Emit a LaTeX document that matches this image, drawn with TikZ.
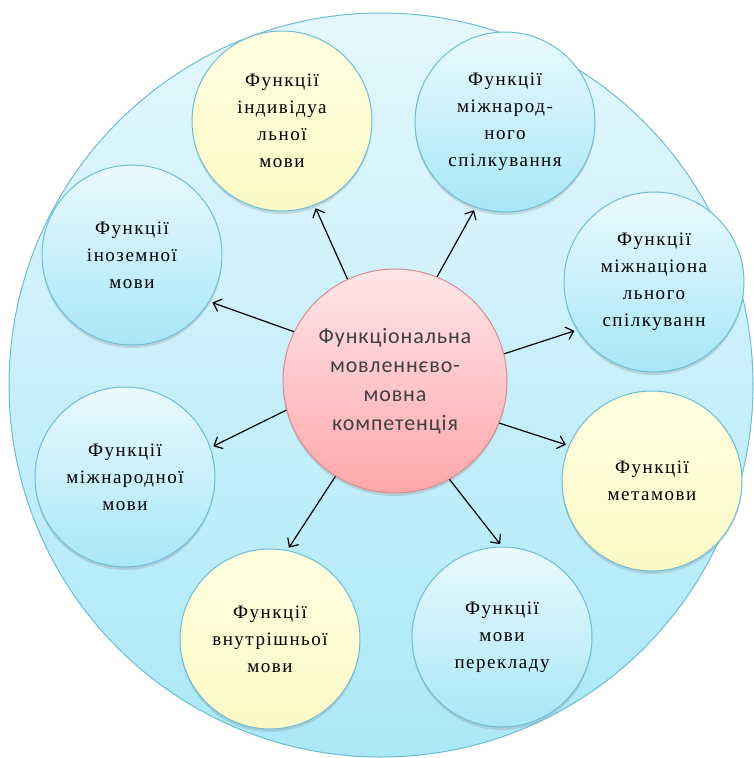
\documentclass[tikz,border=0pt]{standalone}
\usepackage{fontspec}
\setmainfont[LetterSpace=8]{Liberation Serif}
\newfontfamily\ctrfont[LetterSpace=4]{Carlito}
\usetikzlibrary{arrows.meta,shadows}

\definecolor{rimline}{HTML}{6DBCD3}
\definecolor{bigtop}{HTML}{E4F7FD}
\definecolor{bigbot}{HTML}{ABE8F8}
\definecolor{bltop}{HTML}{EAFAFE}
\definecolor{blbot}{HTML}{A8E6F8}
\definecolor{yltop}{HTML}{FFFFE0}
\definecolor{ylbot}{HTML}{FCF9C6}
\definecolor{ctrtop}{HTML}{FFE6E9}
\definecolor{ctrbot}{HTML}{FFA7AB}
\definecolor{ctrline}{HTML}{D88B92}

\begin{document}
\begin{tikzpicture}[x=1pt, y=-1pt,
		every node/.append style={circle, draw, inner sep=0pt, align=center}
		,sat/.style={minimum size=180pt, draw=rimline, line width=1pt,
			font=\fontsize{19}{27}\selectfont,
			drop shadow={shadow xshift=0pt, shadow yshift=-3pt, opacity=.25}}
		,bl/.style={sat, top color=bltop, bottom color=blbot}
		,yl/.style={sat, top color=yltop, bottom color=ylbot}
		,ctr/.style={minimum size=224pt, draw=ctrline, line width=1pt,
			top color=ctrtop, bottom color=ctrbot, text=black!75,
			font=\ctrfont\fontsize{22}{29}\selectfont,
			drop shadow={shadow xshift=0pt, shadow yshift=-3pt, opacity=.25}}
		,arr/.style={-{Straight Barb[length=7pt, width=13pt]}, line width=1.2pt, shorten >=3pt}
	]
	\useasboundingbox (0,0) rectangle (754,758);

	% background disc
	\node [minimum size=744pt, draw=rimline, line width=1pt,
		top color=bigtop, bottom color=bigbot] (bg) at (381,385) {};

	% satellites
	\node [yl] (s1) at (282,121) {Функції\\індивідуа\\льної\\мови};
	\node [bl] (s2) at (505,122) {Функції\\міжнарод-\\ного\\спілкування};
	\node [bl] (s3) at (654,282) {Функції\\міжнаціона\\льного\\спілкуванн};
	\node [yl] (s4) at (652,481) {Функції\\метамови};
	\node [bl] (s5) at (502,637) {Функції\\мови\\перекладу};
	\node [yl] (s6) at (270,639) {Функції\\внутрішньої\\мови};
	\node [bl] (s7) at (125,477) {Функції\\міжнародної\\мови};
	\node [bl] (s8) at (132,255) {Функції\\іноземної\\мови};

	% centre
	\node [ctr] (c) at (395,381) {Функціональна\\мовленнєво-\\мовна\\компетенція};

	\draw [arr] (c.115) -- (s1.-69);
	\draw [arr] (c.68) -- (s2.-109);
	\draw [arr] (c.14) -- (s3.-148);
	\draw [arr] (c.-22) -- (s4.157);
	\draw [arr] (c.-61) -- (s5.90);
	\draw [arr] (c.-122) -- (s6.79);
	\draw [arr] (c.-165) -- (s7.19);
	\draw [arr] (c.154) -- (s8.-31);
\end{tikzpicture}
\end{document}
